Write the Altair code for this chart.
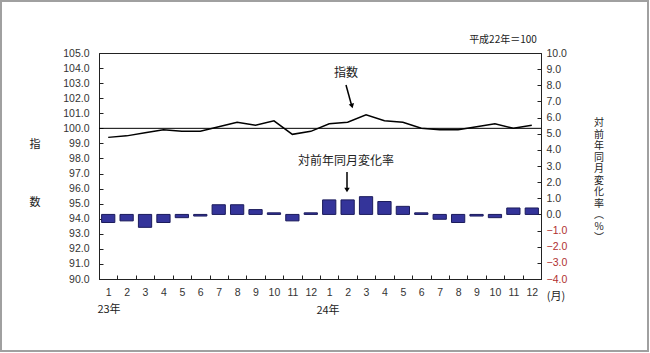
import altair as alt
import pandas as pd

# ---- data ----
positions = list(range(1, 25))
months = [1, 2, 3, 4, 5, 6, 7, 8, 9, 10, 11, 12, 1, 2, 3, 4, 5, 6, 7, 8, 9, 10, 11, 12]
index_vals = [99.4, 99.5, 99.7, 99.9, 99.8, 99.8, 100.1, 100.4, 100.2, 100.5, 99.6, 99.8,
              100.3, 100.4, 100.9, 100.5, 100.4, 100.0, 99.9, 99.9, 100.1, 100.3, 100.0, 100.2]
yoy_vals = [-0.5, -0.4, -0.8, -0.5, -0.2, -0.1, 0.6, 0.6, 0.3, 0.1, -0.4, 0.1,
            0.9, 0.9, 1.1, 0.8, 0.5, 0.1, -0.3, -0.5, -0.1, -0.2, 0.4, 0.4]
left_ticks = [90, 91, 92, 93, 94, 95, 96, 97, 98, 99, 100, 101, 102, 103, 104, 105]
right_ticks = [-4, -3, -2, -1, 0, 1, 2, 3, 4, 5, 6, 7, 8, 9, 10]
base_value = 100

df = pd.DataFrame({"pos": positions, "month": months, "index": index_vals, "yoy": yoy_vals})
one = pd.DataFrame({"a": [0]})

W, H = 442, 226
NUM_FONT = "Liberation Sans"
JP_FONT = "Noto Sans CJK JP"

x_enc = alt.X(
    "pos:O",
    scale=alt.Scale(paddingInner=0, paddingOuter=0),
    axis=alt.Axis(
        title=None,
        labelAngle=0,
        labelExpr="datum.value > 12 ? datum.value - 12 : datum.value",
        tickBand="extent",
        tickSize={"expr": "-4"},
        labelPadding=12,
        labelOverlap=False,
        labelFont=NUM_FONT,
    ),
)

left_scale = alt.Scale(domain=[90, 105], nice=False, zero=False)
left_axis = alt.Axis(orient="left", values=left_ticks, format=".1f", title=None,
                     tickSize={"expr": "-4"}, labelPadding=14, labelOverlap=False,
                     labelFont=NUM_FONT)

line = alt.Chart(df).mark_line(color="black", strokeWidth=1.5).encode(
    x=x_enc,
    y=alt.Y("index:Q", scale=left_scale, axis=left_axis),
)
rule100 = alt.Chart(one).mark_rule(color="black", strokeWidth=1).encode(
    y=alt.Y(datum=base_value, type="quantitative", scale=left_scale, axis=left_axis)
)
left_layer = alt.layer(line, rule100)

bars = alt.Chart(df).mark_bar(
    width=alt.RelativeBandSize(0.72), color="#34349a", stroke="#1c1c5c", strokeWidth=1
).encode(
    x=alt.X("pos:O"),
    y=alt.Y(
        "yoy:Q",
        scale=alt.Scale(domain=[-4, 10], nice=False),
        axis=alt.Axis(orient="right", values=right_ticks, format=".1f", title=None,
                      tickSize={"expr": "-4"}, labelPadding=9, labelOverlap=False,
                      labelFont=NUM_FONT,
                      labelColor={"condition": {"test": "datum.value < 0", "value": "#b03030"},
                                  "value": "#333333"}),
    ),
)

border = alt.Chart(one).mark_rect(fillOpacity=0, stroke="#a0a0a0", strokeWidth=2).encode(
    x=alt.value(-98), x2=alt.value(549), y=alt.value(-52), y2=alt.value(298)
)


def label(text, x, y, size=11, font=JP_FONT, **kw):
    return alt.Chart(one).mark_text(text=text, font=font, fontSize=size, color="#222", **kw).encode(
        x=alt.value(x), y=alt.value(y)
    )


texts = [
    label("平成22年＝100", 404, -13, size=10),
    label("指", -64, 92),
    label("数", -64, 150),
    label(["対", "前", "年", "同", "月", "変", "化", "率", "︵", "%", "︶"], 500, 65,
          size=10, baseline="top", lineHeight=11.5),
    label("指数", 247, 20, size=12),
    label("対前年同月変化率", 247, 108, size=12),
    label("(月)", 457, 244),
    label("23年", 10, 257),
    label("24年", 229, 258),
]

arrow1 = alt.Chart(one).mark_rule(color="black", strokeWidth=1.5).encode(
    x=alt.value(247), x2=alt.value(252.5), y=alt.value(32), y2=alt.value(52)
)
head1 = alt.Chart(one).mark_point(shape="triangle-up", filled=True, size=30, angle=165,
                                  color="black", opacity=1).encode(x=alt.value(253), y=alt.value(53))
arrow2 = alt.Chart(one).mark_rule(color="black", strokeWidth=1.5).encode(
    x=alt.value(248), y=alt.value(119), y2=alt.value(136)
)
head2 = alt.Chart(one).mark_point(shape="triangle-down", filled=True, size=30,
                                  color="black", opacity=1).encode(x=alt.value(248), y=alt.value(137))

chart = alt.layer(
    border, left_layer, bars, arrow1, head1, arrow2, head2, *texts
).resolve_scale(y="independent").properties(
    width=W, height=H,
    autosize="none",
    padding={"left": 99, "top": 53, "right": 109, "bottom": 74},
    background="white",
).configure_view(stroke="#222", strokeWidth=1).configure_axis(
    grid=False, domainColor="#222", tickColor="#222",
    labelFont=NUM_FONT, labelFontSize=10.5, labelColor="#333333",
)

chart.save("out.html", embed_options={"renderer": "svg", "actions": False})
